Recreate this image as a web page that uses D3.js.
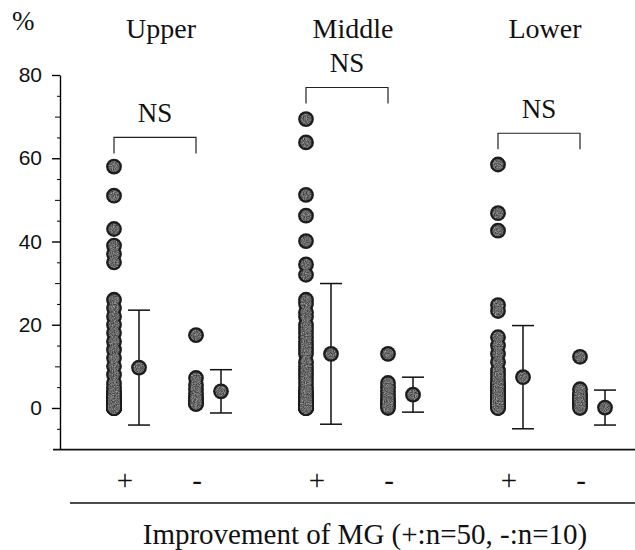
<!DOCTYPE html>
<html>
<head>
<meta charset="utf-8">
<script src="https://cdn.jsdelivr.net/npm/d3@7"></script>
<style>
  body { margin: 0; background: #fff; }
  text { fill: #111; }
</style>
</head>
<body>
<div id="chart"></div>
<script>
// categories
const groups = ["Upper", "Middle", "Lower"];
const signs = ["+", "-"];

// individual values (%)
const upperPlus = [58, 51, 43, 39, 37, 35, 26, 24, 22, 20, 18, 16, 14, 12, 10,
    8, 6, 5, 4, 4, 3, 3, 3, 2, 2, 2, 2, 2, 1.5, 1.5, 1, 1, 1, 1, 1,
    1, 0.5, 0.5, 0.5, 0.5, 0.5, 0, 0, 0, 0, 0, 0, 0, 0, 0];
const upperMinus = [17.5, 7.2, 5.5, 4.5, 3.5, 2.5, 2, 1.5, 1, 1];
const middlePlus = [69.4, 63.8, 51.2, 46.2, 40.1, 34.5, 32, 26, 25, 23, 22, 20,
    19, 18, 17, 16, 15, 14, 13, 11, 10, 9, 8, 7, 6, 5, 4, 4, 3, 3, 3, 2, 2, 2,
    2, 1, 1, 1, 1, 1, 0.5, 0.5, 0.5, 0.5, 0, 0, 0, 0, 0, 0];
const middleMinus = [13, 6, 5, 4, 3, 2, 1.5, 1, 0.5, 0];
const lowerPlus = [58.5, 46.8, 42.6, 24.7, 23.3, 17, 15, 13, 11, 9, 8, 7, 6, 6,
    5, 5, 5, 4, 4, 4, 4, 3, 3, 3, 3, 3, 2, 2, 2, 2, 2, 1.5, 1.5, 1, 1, 1, 1,
    1, 1, 0.5, 0.5, 0.5, 0.5, 0, 0];
const lowerMinus = [12.3, 4.5, 3.5, 3, 2.5, 2, 1.5, 1, 0.5, 0];

// mean and SD as drawn
const meanPlus = [9.7, 13.0, 7.4];
const sdPlus = [13.8, 16.9, 12.4];
const meanMinus = [4.0, 3.2, 0.1];
const sdMinus = [5.2, 4.2, 4.2];

// NS bracket level (%)
const nsLevel = [65, 77, 66];

const yTicks = [0, 20, 40, 60, 80];
const yTitle = "%";
const xTitle = "Improvement of MG (+:n=50, -:n=10)";

const pointSets = {
    Upper: {"+": upperPlus, "-": upperMinus},
    Middle: {"+": middlePlus, "-": middleMinus},
    Lower: {"+": lowerPlus, "-": lowerMinus}
};

const width = 635, height = 550;
const serif = "'Liberation Serif', 'Times New Roman', serif";
const sans = "'Liberation Sans', Arial, sans-serif";
const r = 7.9;

const svg = d3.select("#chart")
    .append("svg")
    .attr("width", width)
    .attr("height", height);

// grainy fill like the printed dots
const defs = svg.append("defs");
const grain = defs.append("filter").attr("id", "grain")
    .attr("x", "-20%").attr("y", "-20%").attr("width", "140%").attr("height", "140%");
grain.append("feTurbulence")
    .attr("type", "fractalNoise")
    .attr("baseFrequency", 0.9)
    .attr("numOctaves", 2)
    .attr("seed", 3)
    .attr("result", "noise");
grain.append("feColorMatrix")
    .attr("in", "noise")
    .attr("type", "saturate")
    .attr("values", 0)
    .attr("result", "grey");
const ct = grain.append("feComponentTransfer").attr("in", "grey").attr("result", "toned");
["feFuncR", "feFuncG", "feFuncB"].forEach(f =>
    ct.append(f).attr("type", "linear").attr("slope", 1.3).attr("intercept", -0.17));
grain.append("feComposite")
    .attr("in", "toned")
    .attr("in2", "SourceGraphic")
    .attr("operator", "in");

// scales
const y = d3.scaleLinear()
    .domain([-10, 80])
    .range([449.6, 75]);

const x0 = d3.scaleBand()
    .domain(groups)
    .range([68, 644]);

const x1 = d3.scalePoint()
    .domain(signs)
    .range([58, 140]);

const dotX = (g, s) => x0(g) + x1(s) - 12;
const meanX = (g, s) => x0(g) + x1(s) + 13;

// Y axis
svg.append("g")
    .attr("transform", "translate(60,0)")
    .call(d3.axisLeft(y).tickValues(yTicks).tickSize(8).tickSizeOuter(0).tickPadding(10))
    .call(g => g.select(".domain").attr("stroke-width", 1.4))
    .call(g => g.selectAll(".tick line").attr("stroke-width", 1.4))
    .selectAll("text")
    .style("font-family", sans)
    .style("font-size", "21px")
    .attr("fill", "#111");

svg.append("g")
    .attr("transform", "translate(60,0)")
    .call(d3.axisLeft(y).tickValues([-5, 5, 15, 25, 35, 45, 55, 65, 75]).tickSize(3).tickFormat(""))
    .call(g => g.select(".domain").remove());
svg.append("g")
    .attr("transform", "translate(60,0)")
    .call(d3.axisLeft(y).tickValues([10, 30, 50, 70]).tickSize(5).tickFormat(""))
    .call(g => g.select(".domain").remove());

// baseline and divider
svg.append("line")
    .attr("x1", 53).attr("x2", width)
    .attr("y1", y(-10)).attr("y2", y(-10))
    .attr("stroke", "#111").attr("stroke-width", 1.6);
svg.append("line")
    .attr("x1", 70).attr("x2", width)
    .attr("y1", 503).attr("y2", 503)
    .attr("stroke", "#111").attr("stroke-width", 1.6);

// titles
svg.append("text")
    .attr("x", 12).attr("y", 30)
    .style("font-family", serif).style("font-size", "27px")
    .text(yTitle);

svg.selectAll("groupTitles")
    .data(groups)
    .join("text")
    .attr("x", d => x0(d) + x0.bandwidth() / 2 - 3)
    .attr("y", 38)
    .attr("text-anchor", "middle")
    .style("font-family", serif).style("font-size", "28px")
    .text(d => d);

svg.append("text")
    .attr("x", 365).attr("y", 544)
    .attr("text-anchor", "middle")
    .style("font-family", serif).style("font-size", "29px")
    .text(xTitle);

// +/- labels under each column
const labelShift = {"+": 11, "-": 1};
const cells = groups.flatMap(g => signs.map(s => ({g, s})));
svg.selectAll("signLabels")
    .data(cells)
    .join("text")
    .attr("x", d => dotX(d.g, d.s) + labelShift[d.s])
    .attr("y", 490)
    .attr("text-anchor", "middle")
    .style("font-family", serif).style("font-size", "29px")
    .text(d => d.s);

// NS brackets
const brackets = svg.append("g");
groups.forEach((g, i) => {
    const xa = dotX(g, "+"), xb = dotX(g, "-"), yt = y(nsLevel[i]);
    brackets.append("path")
        .attr("d", `M${xa},${yt + 16}V${yt}H${xb}V${yt + 16}`)
        .attr("fill", "none")
        .attr("stroke", "#222")
        .attr("stroke-width", 1.2);
    brackets.append("text")
        .attr("x", (xa + xb) / 2)
        .attr("y", yt - 15)
        .attr("text-anchor", "middle")
        .style("font-family", serif).style("font-size", "27px")
        .text("NS");
});

// individual dots: dark rings first, grey centres on top
const points = cells.flatMap(c => pointSets[c.g][c.s].map(v => ({g: c.g, s: c.s, v})));

svg.append("g")
    .selectAll("circle")
    .data(points)
    .join("circle")
    .attr("cx", d => dotX(d.g, d.s))
    .attr("cy", d => y(d.v))
    .attr("r", r)
    .attr("fill", "#1c1c1c");

svg.append("g")
    .attr("filter", "url(#grain)")
    .selectAll("circle")
    .data(points)
    .join("circle")
    .attr("cx", d => dotX(d.g, d.s))
    .attr("cy", d => y(d.v))
    .attr("r", r - 2.3)
    .attr("fill", "#888");

// mean +/- SD
const stats = groups.flatMap((g, i) => [
    {g, s: "+", m: meanPlus[i], sd: sdPlus[i]},
    {g, s: "-", m: meanMinus[i], sd: sdMinus[i]}
]);

const bars = svg.append("g")
    .attr("stroke", "#111")
    .attr("stroke-width", 1.5);
bars.selectAll("vline")
    .data(stats)
    .join("line")
    .attr("x1", d => meanX(d.g, d.s)).attr("x2", d => meanX(d.g, d.s))
    .attr("y1", d => y(d.m - d.sd)).attr("y2", d => y(d.m + d.sd));
bars.selectAll("capTop")
    .data(stats)
    .join("line")
    .attr("x1", d => meanX(d.g, d.s) - 11).attr("x2", d => meanX(d.g, d.s) + 11)
    .attr("y1", d => y(d.m + d.sd)).attr("y2", d => y(d.m + d.sd));
bars.selectAll("capBottom")
    .data(stats)
    .join("line")
    .attr("x1", d => meanX(d.g, d.s) - 11).attr("x2", d => meanX(d.g, d.s) + 11)
    .attr("y1", d => y(d.m - d.sd)).attr("y2", d => y(d.m - d.sd));

svg.append("g")
    .selectAll("circle")
    .data(stats)
    .join("circle")
    .attr("cx", d => meanX(d.g, d.s))
    .attr("cy", d => y(d.m))
    .attr("r", r)
    .attr("fill", "#1c1c1c");
svg.append("g")
    .attr("filter", "url(#grain)")
    .selectAll("circle")
    .data(stats)
    .join("circle")
    .attr("cx", d => meanX(d.g, d.s))
    .attr("cy", d => y(d.m))
    .attr("r", r - 2.3)
    .attr("fill", "#888");
</script>
</body>
</html>
